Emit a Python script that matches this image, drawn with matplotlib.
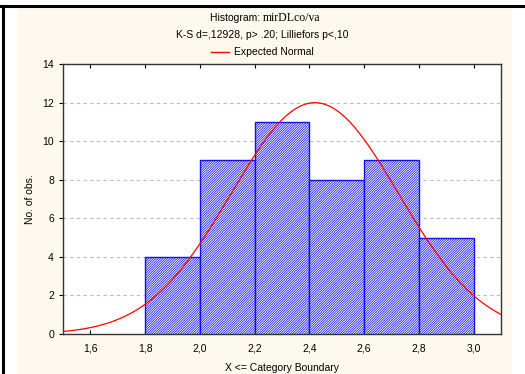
import matplotlib
matplotlib.use('Agg')
import matplotlib.pyplot as plt
import numpy as np
from matplotlib.patches import Rectangle
from matplotlib.lines import Line2D

# Datos del histograma
bin_left = [1.8, 2.0, 2.2, 2.4, 2.6, 2.8]
counts = [4, 9, 11, 8, 9, 5]
bin_width = 0.2
x_ticks = [1.6, 1.8, 2.0, 2.2, 2.4, 2.6, 2.8, 3.0]
x_ticklabels = ['1,6', '1,8', '2,0', '2,2', '2,4', '2,6', '2,8', '3,0']
y_ticks = [0, 2, 4, 6, 8, 10, 12, 14]

# Parámetros de la normal esperada
mean_val = 2.42
sd_val = 0.306
n_obs = sum(counts)

plt.rcParams['font.family'] = ['Liberation Sans', 'DejaVu Sans']
plt.rcParams['hatch.linewidth'] = 0.55

cream = '#FEF9EF'
fig = plt.figure(figsize=(5.25, 3.74), dpi=100)
fig.patch.set_facecolor('white')

# fondo crema y marco negro
fig.patches.append(Rectangle((17/525, 0), (512-17)/525, 1 - 7/374,
                             transform=fig.transFigure, facecolor=cream,
                             edgecolor='none', zorder=-10))
fig.add_artist(Line2D([0, 1], [1 - 5.5/374, 1 - 5.5/374], color='black', lw=2.2,
                      transform=fig.transFigure))
fig.add_artist(Line2D([2.5/525, 2.5/525], [0, 1 - 5.5/374], color='black', lw=2.2,
                      transform=fig.transFigure))

ax = fig.add_axes([63/525, 1 - 334/374, (501-63)/525, (334-64)/374])
ax.set_facecolor('white')

ax.bar(bin_left, counts, width=bin_width, align='edge', facecolor='white',
       edgecolor='#1010F0', hatch='/' * 14, linewidth=1.0, zorder=3)

xs = np.linspace(1.5, 3.1, 400)
ys = n_obs * bin_width / (sd_val * np.sqrt(2 * np.pi)) * np.exp(-0.5 * ((xs - mean_val) / sd_val) ** 2)
ax.plot(xs, ys, color='#FF0000', lw=0.9, zorder=4)

ax.set_xlim(1.5, 3.1)
ax.set_ylim(0, 14)
ax.set_xticks(x_ticks)
ax.set_xticklabels(x_ticklabels, fontsize=7.5)
ax.set_yticks(y_ticks)
ax.tick_params(axis='y', labelsize=7.5, direction='out', length=3, width=0.8)
ax.tick_params(axis='x', direction='in', length=3, width=0.8, top=True, pad=7)
for y in y_ticks[1:-1]:
    ax.axhline(y, color='#BBBBBB', lw=0.8, ls=(0, (3, 3)), zorder=1)
for s in ax.spines.values():
    s.set_color('#333333')
    s.set_linewidth(1.0)

ax.set_xlabel('X <= Category Boundary', fontsize=7.5, labelpad=7)
ax.set_ylabel('No. of obs.', fontsize=7.5, labelpad=5)

# título y leyenda
fig.text(0.5, 1 - 18/374, 'Histogram: ', ha='right', va='center', fontsize=7.5)
fig.text(0.5, 1 - 18/374, 'mirDLco/va', ha='left', va='center', fontsize=8.5,
         family='Liberation Serif')
fig.text(0.5, 1 - 35/374, 'K-S d=,12928, p> .20; Lilliefors p<,10', ha='center',
         va='center', fontsize=7.5)
fig.add_artist(Line2D([211/525, 229/525], [1 - 52/374, 1 - 52/374], color='#FF0000',
                      lw=1.0, transform=fig.transFigure))
fig.text(234/525, 1 - 52/374, 'Expected Normal', ha='left', va='center', fontsize=7.5)

fig.savefig('out.png', dpi=100, facecolor=fig.get_facecolor())
